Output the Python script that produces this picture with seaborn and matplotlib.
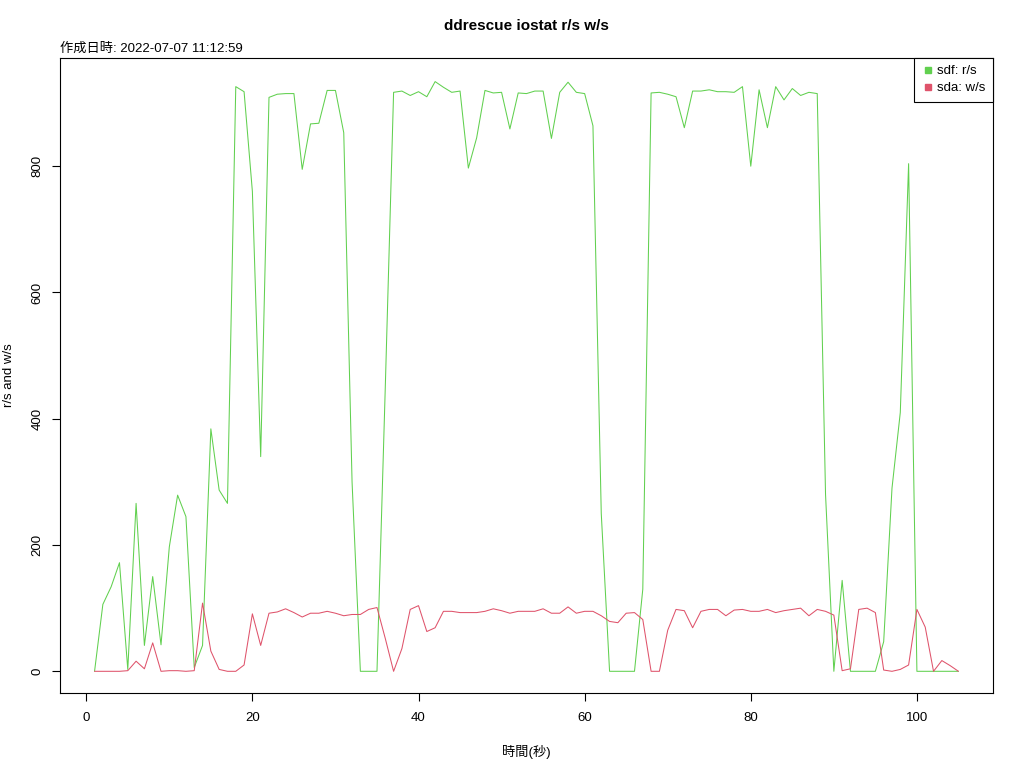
import pandas as pd
import seaborn as sns
import matplotlib.pyplot as plt
from matplotlib.lines import Line2D

# Zeit in Sekunden
zeit = list(range(1, 106))

# sdf: r/s
sdf_rs = [0, 106, 134, 172, 3, 266, 41, 150, 42, 197,
          279, 245, 6, 41, 384, 287, 266, 926, 918, 760,
          340, 909, 914, 915, 915, 795, 867, 868, 920, 920,
          853, 300, 0, 0, 0, 450, 917, 919, 912, 918,
          910, 934, 925, 917, 919, 797, 845, 920, 916, 917,
          859, 916, 915, 919, 919, 844, 917, 933, 917, 915,
          864, 250, 0, 0, 0, 0, 130, 916, 917, 914,
          910, 861, 919, 919, 921, 918, 918, 917, 926, 800,
          921, 861, 926, 905, 923, 912, 917, 915, 280, 0,
          144, 0, 0, 0, 0, 47, 290, 410, 804, 0,
          0, 0, 0, 0, 0]

# sda: w/s
sda_ws = [0, 0, 0, 0, 1, 16, 4, 45, 0, 1,
          1, 0, 1, 108, 32, 3, 0, 0, 10, 91,
          41, 92, 94, 99, 93, 86, 92, 92, 95, 92,
          88, 90, 90, 98, 101, 52, 0, 36, 98, 104,
          63, 69, 95, 95, 93, 93, 93, 95, 99, 96,
          92, 95, 95, 95, 99, 92, 92, 102, 92, 95,
          95, 88, 79, 77, 92, 93, 82, 0, 0, 65,
          98, 96, 69, 95, 98, 98, 88, 97, 98, 95,
          95, 98, 93, 96, 98, 100, 88, 98, 95, 89,
          1, 4, 98, 100, 93, 2, 0, 3, 10, 98,
          70, 0, 17, 9, 0]

serien = ["sdf: r/s", "sda: w/s"]
farben = {"sdf: r/s": "#61D04F", "sda: w/s": "#DF536B"}

df = pd.DataFrame({
    "zeit": zeit * 2,
    "wert": sdf_rs + sda_ws,
    "serie": [serien[0]] * len(zeit) + [serien[1]] * len(zeit),
})

sns.set_style("white")
plt.rcParams['font.family'] = ['Liberation Sans', 'Noto Sans CJK JP', 'DejaVu Sans']
plt.rcParams['text.color'] = 'black'
plt.rcParams['axes.labelcolor'] = 'black'

fig = plt.figure(figsize=(10.24, 7.68), dpi=100)
ax = fig.add_axes([60 / 1024, 1 - 693 / 768, 933 / 1024, 635 / 768])

sns.lineplot(data=df, x="zeit", y="wert", hue="serie", palette=farben,
             linewidth=0.75, legend=False, ax=ax)

# R-artige Achsen (4% Rand)
ax.set_xlim(1 - 0.04 * 104, 105 + 0.04 * 104)
ax.set_ylim(-0.04 * 934 + 3, 934 * 1.04)
ax.set_xticks([0, 20, 40, 60, 80, 100])
ax.set_yticks([0, 200, 400, 600, 800])
ax.tick_params(axis="both", direction="out", length=6, width=0.8, labelsize=9.5,
               color="black", labelcolor="black", bottom=True, left=True)
ax.tick_params(axis="x", pad=8)
ax.tick_params(axis="y", pad=6)
for lbl in ax.get_yticklabels():
    lbl.set_rotation(90)
    lbl.set_va("center")
for s in ax.spines.values():
    s.set_color("black")
    s.set_linewidth(0.8)

ax.set_xlabel("時間(秒)", fontsize=9.5, labelpad=15)
ax.set_ylabel("r/s and w/s", fontsize=9.5, labelpad=12)
ax.set_title("ddrescue iostat r/s w/s", fontsize=11, fontweight="bold", pad=20,
             color="black")
ax.text(0, 1.005, "作成日時: 2022-07-07 11:12:59", transform=ax.transAxes,
        ha="left", va="bottom", fontsize=9.5, color="black")

handles = [Line2D([], [], marker="s", linestyle="none", markersize=5,
                  color=farben[s]) for s in serien]
leg = ax.legend(handles, serien, loc="upper right", borderaxespad=0,
                fancybox=False, framealpha=1, edgecolor="black", fontsize=9.5,
                handletextpad=0.2, handlelength=1.0, borderpad=0.55,
                labelspacing=0.35)
leg.get_frame().set_linewidth(0.8)

fig.savefig("out.png", dpi=100)
